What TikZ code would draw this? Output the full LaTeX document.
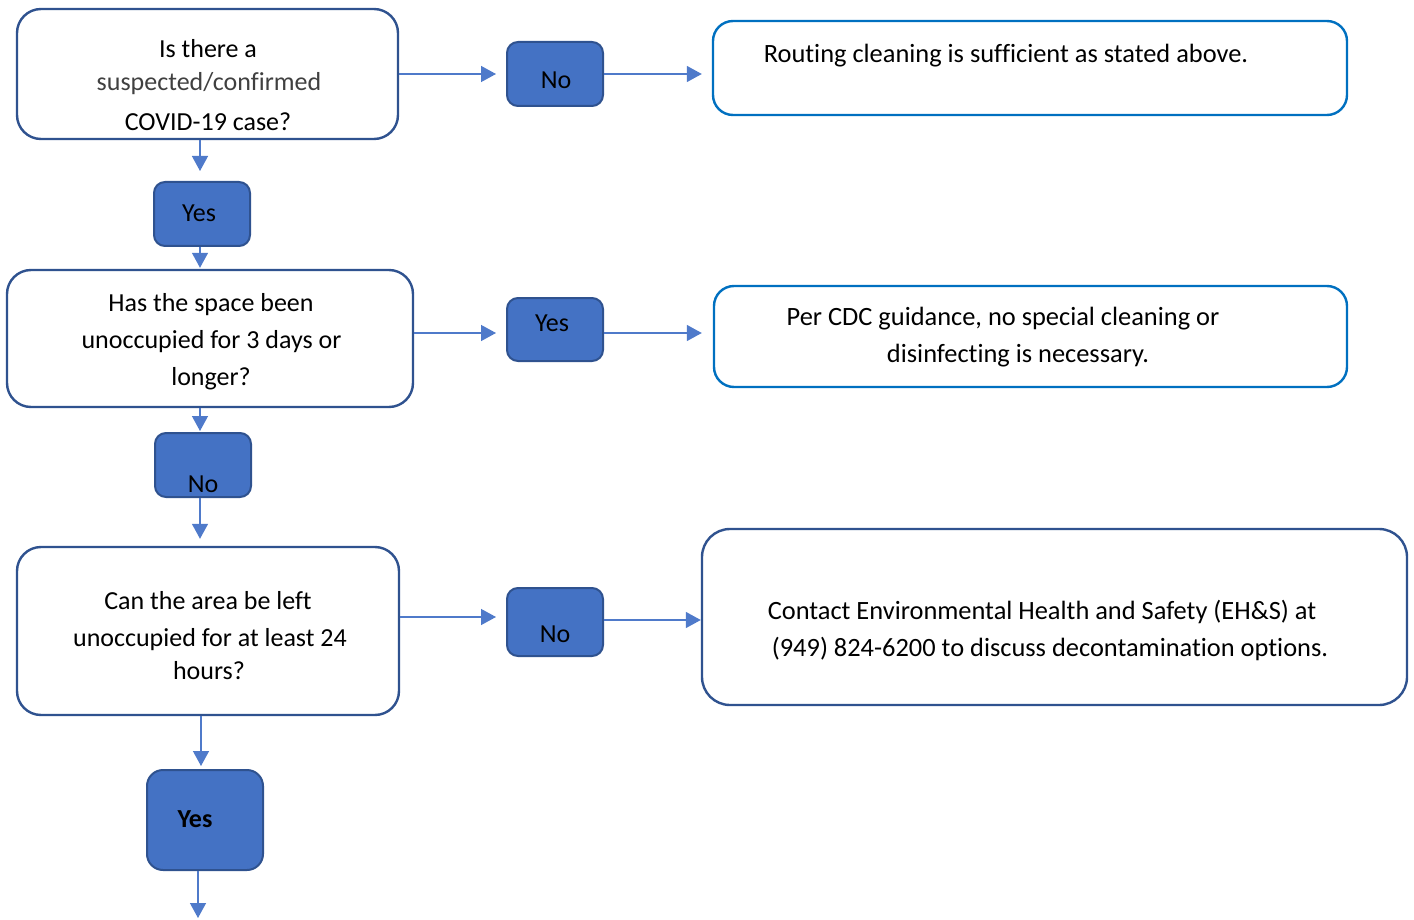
\documentclass[tikz,border=0pt]{standalone}
\usepackage{fontspec}
\setmainfont[Ligatures=NoCommon]{Carlito}
\usetikzlibrary{arrows.meta}
\definecolor{fillblue}{HTML}{4472C4}
\definecolor{darkblue}{HTML}{2F528F}
\definecolor{brightblue}{HTML}{0070C0}
\definecolor{linkblue}{HTML}{4F7ACA}
\definecolor{graytext}{HTML}{404040}
\begin{document}
\begin{tikzpicture}[x=1pt,y=-1pt,
  qbox/.style={draw=darkblue,line width=2.4pt,rounded corners=24pt,fill=white,inner sep=0pt},
  rbox/.style={draw=brightblue,line width=2.4pt,rounded corners=20pt,fill=white,inner sep=0pt},
  abox/.style={draw=darkblue,line width=2pt,rounded corners=11pt,fill=fillblue,inner sep=0pt},
  txt/.style={anchor=base,inner sep=0pt,font=\fontsize{26}{36}\selectfont},
  rtxt/.style={anchor=base,inner sep=0pt,font=\fontsize{26.4}{36}\selectfont},
  link/.style={draw=linkblue,line width=1.4pt,-{Triangle[length=15pt,width=16pt]}}]
\useasboundingbox (0,0) rectangle (1414,920);
% left column boxes
\node[qbox,minimum width=381pt,minimum height=130pt] (q1) at (207.5,74) {};
\node[abox,minimum width=96pt,minimum height=64pt] (yes1) at (202,214) {};
\node[qbox,minimum width=406pt,minimum height=137pt] (q2) at (210,338.5) {};
\node[abox,minimum width=96pt,minimum height=64pt] (no2) at (203,465) {};
\node[qbox,minimum width=382pt,minimum height=168pt] (q3) at (208,631) {};
\node[abox,minimum width=116pt,minimum height=100pt,rounded corners=16pt] (yes3) at (205,820) {};
% middle column
\node[abox,minimum width=96pt,minimum height=64pt] (no1) at (555,74) {};
\node[abox,minimum width=96pt,minimum height=63pt] (yes2) at (555,329.5) {};
\node[abox,minimum width=96pt,minimum height=68pt] (no3) at (555,622) {};
% right column
\node[rbox,minimum width=634pt,minimum height=94pt] (r1) at (1030,68) {};
\node[rbox,minimum width=633pt,minimum height=101pt] (r2) at (1030.5,336.5) {};
\node[qbox,minimum width=705pt,minimum height=176pt,rounded corners=28pt] (r3) at (1054.5,617) {};
\coordinate (end) at (198,918);
% texts
\node[txt] (t1a) at (208,58) {Is there a};
\node[txt,text=graytext] (t1b) at (209,90.7) {suspected/confirmed};
\node[txt] (t1c) at (208,130.7) {COVID-19 case?};
\node[txt] (tyes1) at (199,222) {Yes};
\node[txt] (t2a) at (211,311.7) {Has the space been};
\node[txt] (t2b) at (211.5,348.3) {unoccupied for 3 days or};
\node[txt] (t2c) at (211,385) {longer?};
\node[txt] (tno2) at (203,492) {No};
\node[txt] (t3a) at (208,609.3) {Can the area be left};
\node[txt] (t3b) at (210,646) {unoccupied for at least 24};
\node[txt] (t3c) at (209,679.3) {hours?};
\node[txt,font=\fontsize{26}{36}\selectfont\bfseries] (tyes3) at (195,827) {Yes};
\node[txt] (tno1) at (556,89) {No};
\node[txt] (tyes2) at (552,331.7) {Yes};
\node[txt] (tno3) at (555,642) {No};
\node[rtxt] (tr1) at (1006,63) {Routing cleaning is sufficient as stated above.};
\node[rtxt] (tr2a) at (1003,325) {Per CDC guidance, no special cleaning or};
\node[rtxt] (tr2b) at (1018,362) {disinfecting is necessary.};
\node[rtxt] (tr3a) at (1042,619) {Contact Environmental Health and Safety (EH\&S) at};
\node[rtxt] (tr3b) at (1050,656) {(949) 824-6200 to discuss decontamination options.};
% connectors
\draw[link,shorten >=10pt] (q1.east|-no1) -- (no1.west);
\draw[link,shorten >=10pt] (no1.east) -- (r1.west|-no1);
\draw[link,shorten >=10pt] ([yshift=-3.5pt]q2.east|-yes2) -- ([yshift=-3.5pt]yes2.west);
\draw[link,shorten >=11pt] ([yshift=-3.5pt]yes2.east) -- ([yshift=-3.5pt]r2.west|-yes2);
\draw[link,shorten >=10pt] ([yshift=5pt]q3.east|-no3) -- ([yshift=5pt]no3.west);
\draw[link] ([yshift=2pt]no3.east) -- ([yshift=2pt]r3.west|-no3);
\draw[link,shorten >=10pt] ([xshift=-2pt]yes1.north|-q1.south) -- ([xshift=-2pt]yes1.north);
\draw[link,shorten >=1pt] ([xshift=-2pt]yes1.south) -- ([xshift=-2pt]yes1.south|-q2.north);
\draw[link,shorten >=1pt] ([xshift=-3pt]no2.north|-q2.south) -- ([xshift=-3pt]no2.north);
\draw[link,shorten >=7pt] ([xshift=-3pt]no2.south) -- ([xshift=-3pt]no2.south|-q3.north);
\draw[link,shorten >=3pt] ([xshift=-4pt]yes3.north|-q3.south) -- ([xshift=-4pt]yes3.north);
\draw[link] (yes3.south-|end) -- (end);
\end{tikzpicture}
\end{document}
